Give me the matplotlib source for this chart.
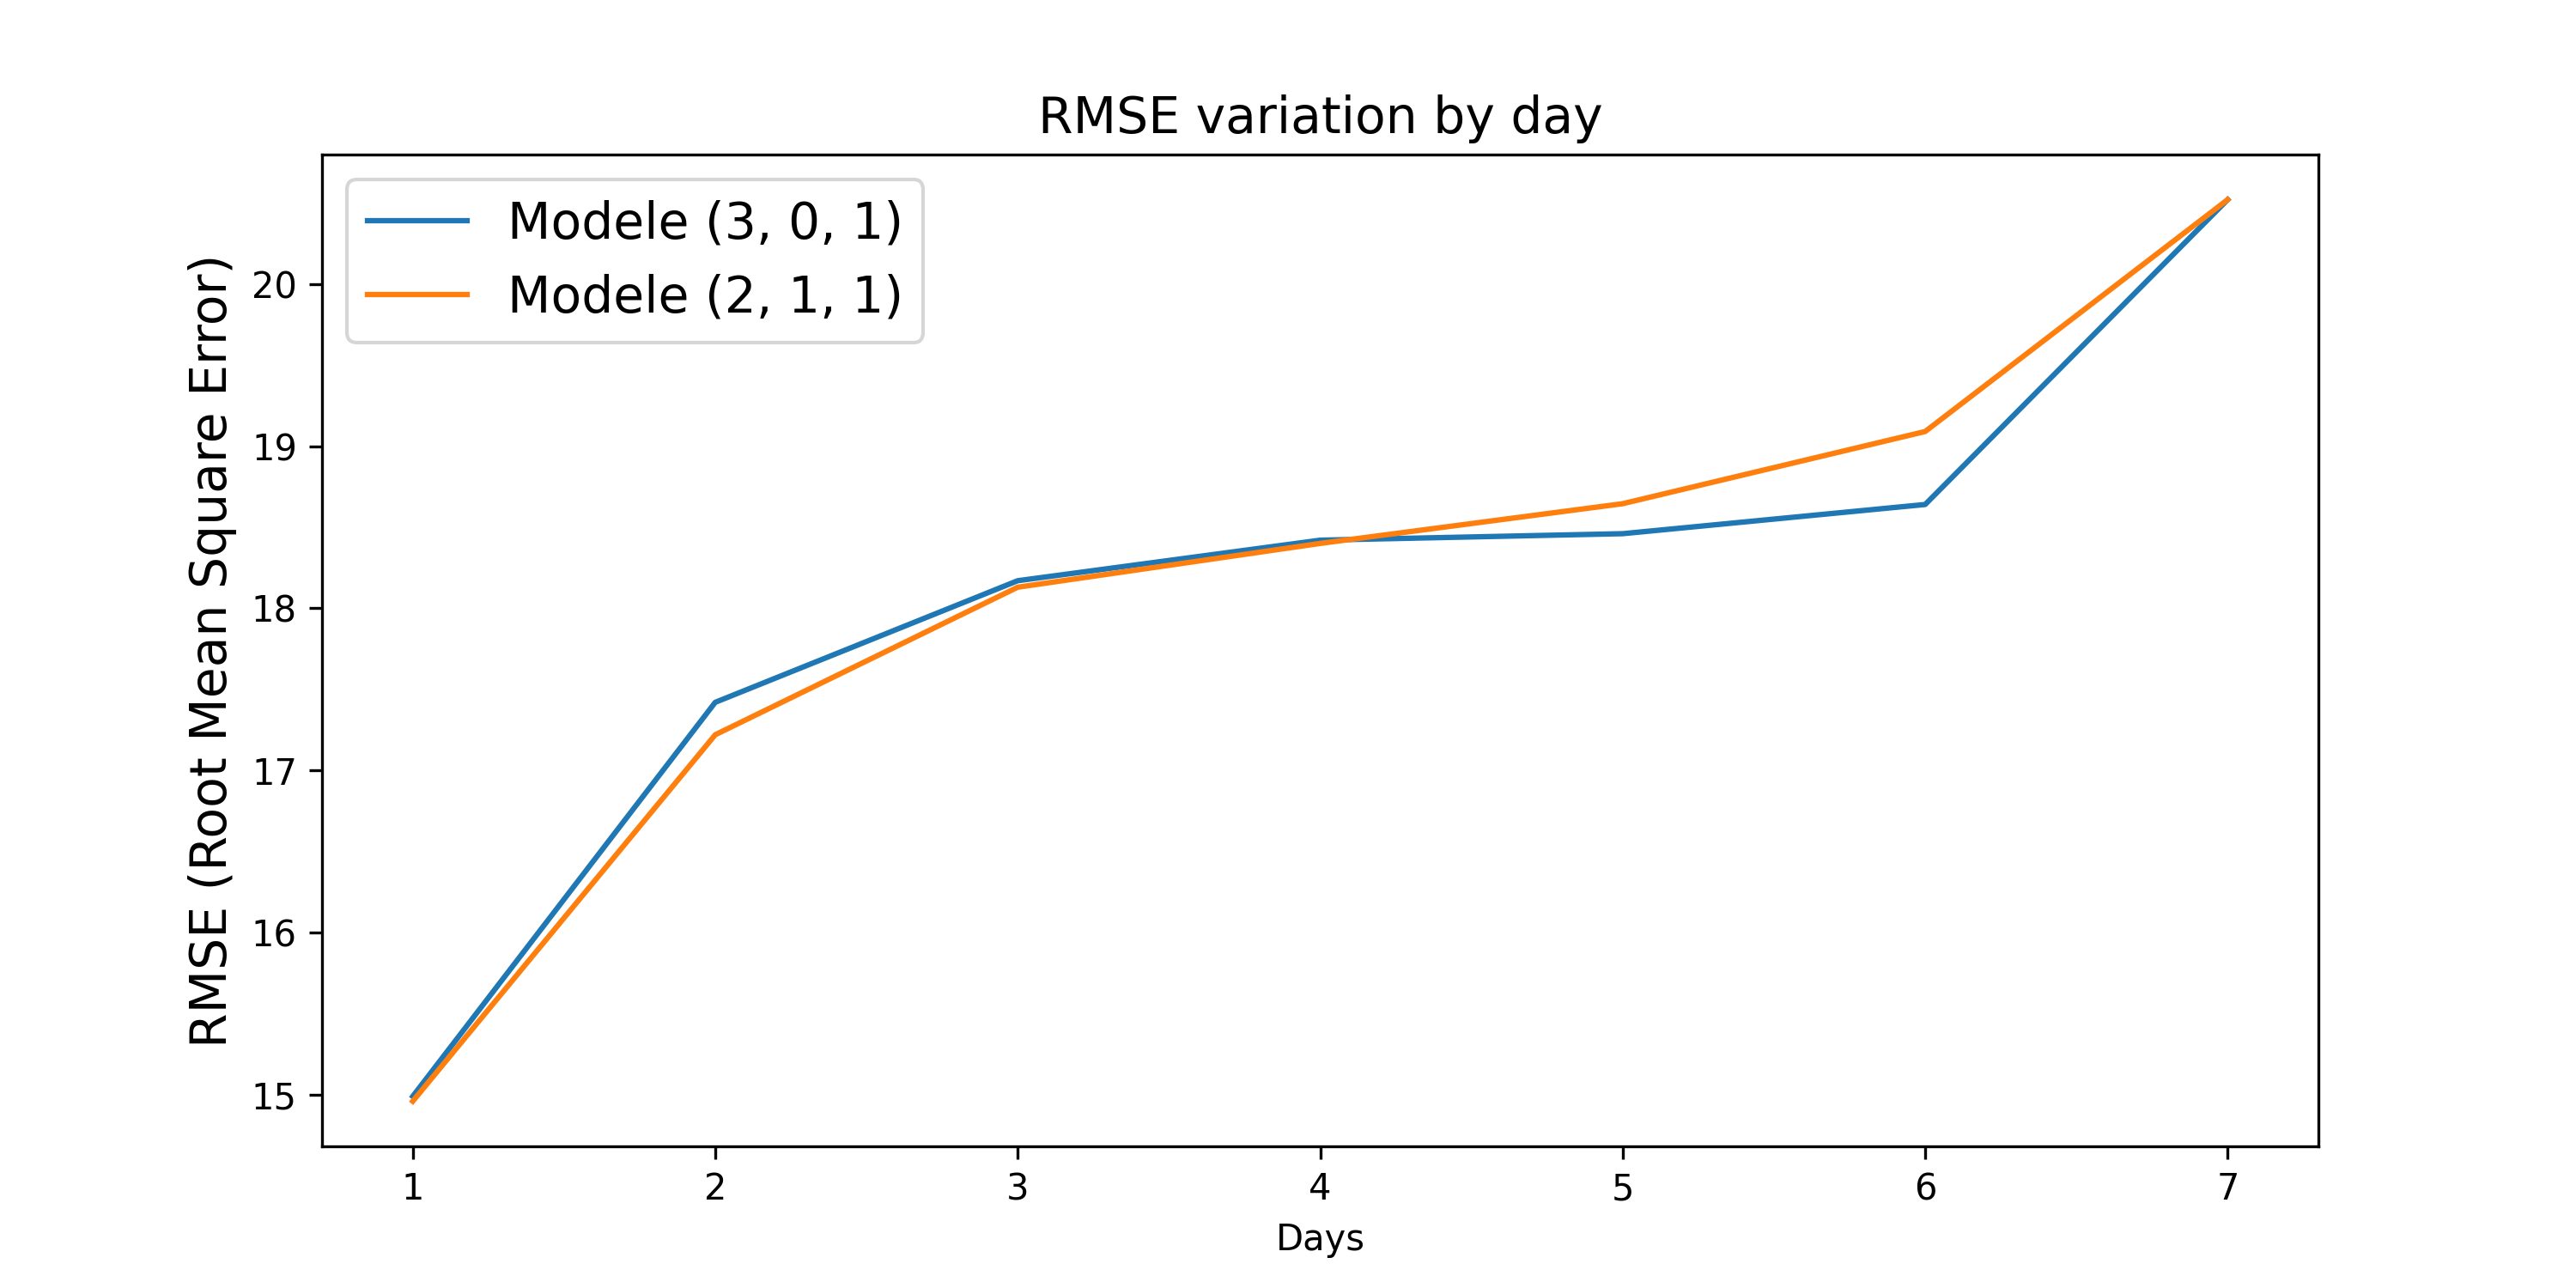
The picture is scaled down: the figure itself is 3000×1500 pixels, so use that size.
import matplotlib
matplotlib.use("Agg")
import matplotlib.pyplot as plt

# RMSE per forecast day for the two ARIMA orders
days = [1, 2, 3, 4, 5, 6, 7]
rmse_301 = [14.99, 17.42, 18.17, 18.42, 18.46, 18.64, 20.52]
rmse_211 = [14.96, 17.22, 18.13, 18.40, 18.645, 19.09, 20.52]

fig = plt.figure(figsize=(10, 5), dpi=300)
ax = fig.add_subplot(111)

ax.plot(days, rmse_301, label='Modele (3, 0, 1)')
ax.plot(days, rmse_211, label='Modele (2, 1, 1)')

ax.set_title('RMSE variation by day', fontsize=14)
ax.set_xlabel('Days')
ax.set_ylabel('RMSE (Root Mean Square Error)', fontsize=14)
ax.legend(fontsize=14, loc='upper left')

fig.savefig('out.png', dpi=300)
